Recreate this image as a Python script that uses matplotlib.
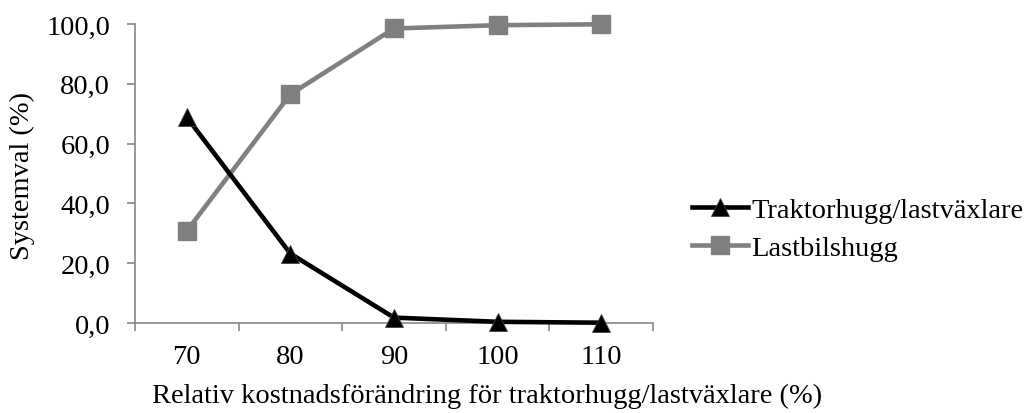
import matplotlib.pyplot as plt
import numpy as np
from matplotlib.ticker import FuncFormatter

# relative cost change (%) for tractor harvesting / load switching
categories = ['70', '80', '90', '100', '110']
traktor    = [68.8, 23.2, 1.8, 0.4, 0.1]
lastbil    = [30.8, 76.5, 98.5, 99.6, 99.9]

plt.rcParams['font.family'] = ['Liberation Serif', 'DejaVu Serif']
FS = 20.5
GREY_AX = '#868686'
W, H = 1033, 414

fig = plt.figure(figsize=(W / 100, H / 100), dpi=100)
ax = fig.add_axes([135 / W, 1 - 324 / H, (653 - 135) / W, (324 - 25) / H])

x = np.arange(len(categories))
# markers sit on the axis edges at 0 and 100, so don't clip them
ax.plot(x, traktor, color='black', lw=3.3, marker='^', ms=13,
        markerfacecolor='black', markeredgecolor='#404040', markeredgewidth=0.6,
        label='Traktorhugg/lastväxlare', zorder=3, clip_on=False)
ax.plot(x, lastbil, color='#808080', lw=3.3, marker='s', ms=12.5,
        markerfacecolor='#808080', markeredgecolor='#808080',
        label='Lastbilshugg', zorder=2, clip_on=False)

ax.set_xlim(-0.5, len(categories) - 0.5)
ax.set_ylim(0, 100)
ax.set_yticks(np.arange(0, 101, 20))
ax.yaxis.set_major_formatter(FuncFormatter(lambda v, p: f'{v:.1f}'.replace('.', ',')))

# tick marks on the category boundaries, labels in the middle
ax.set_xticks(np.arange(-0.5, len(categories), 1.0))
ax.set_xticklabels([])
ax.set_xticks(x, minor=True)
ax.set_xticklabels(categories, minor=True, fontsize=FS)
ax.tick_params(axis='x', which='minor', length=0, pad=15)
ax.tick_params(axis='x', which='major', length=6, color=GREY_AX, width=1.2)
ax.tick_params(axis='y', length=6, color=GREY_AX, width=1.2, labelsize=FS, pad=12)

for s in ['top', 'right']:
    ax.spines[s].set_visible(False)
for s in ['left', 'bottom']:
    ax.spines[s].set_color(GREY_AX)
    ax.spines[s].set_linewidth(1.2)

fig.text(22 / W, 1 - 176 / H, 'Systemval (%)', fontsize=FS, rotation=90,
         ha='center', va='center')
fig.text(487 / W, 1 - 396 / H, 'Relativ kostnadsförändring för traktorhugg/lastväxlare (%)',
         fontsize=FS, ha='center', va='center')

fig.legend(loc='center left', bbox_to_anchor=(692 / W, 1 - 230 / H), frameon=False,
           fontsize=FS, handlelength=1.95, handletextpad=0.12, labelspacing=0.45,
           borderpad=0, borderaxespad=0)

fig.savefig('out.png', dpi=100)
